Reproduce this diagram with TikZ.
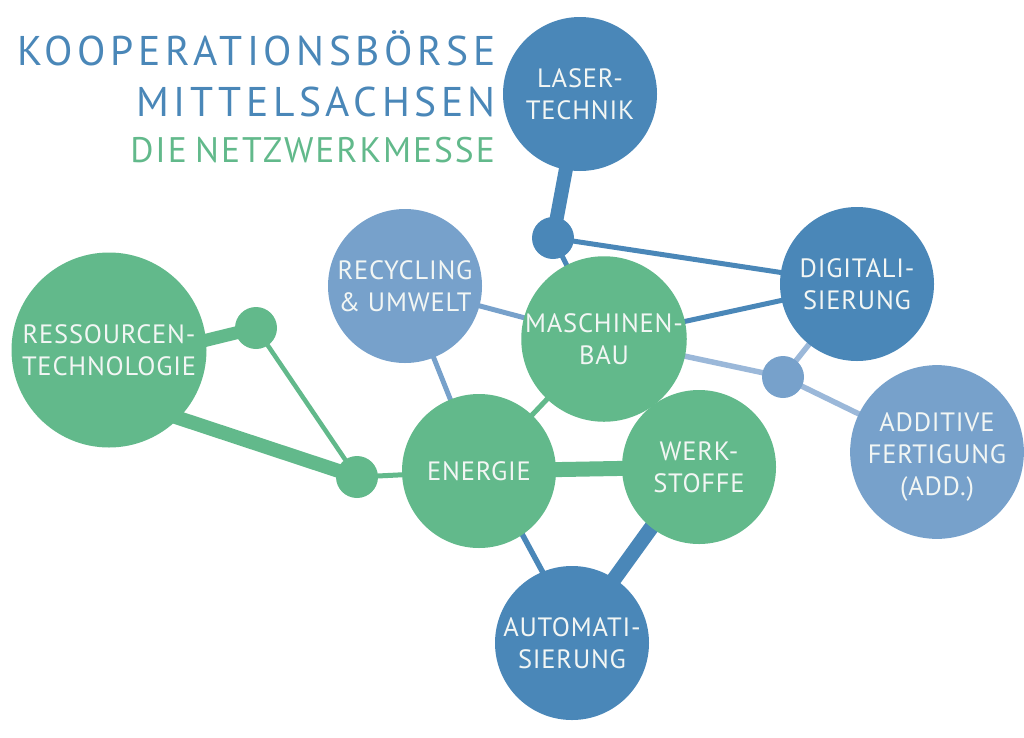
\documentclass[tikz,border=0pt]{standalone}
\usepackage{fontspec}
\setmainfont{PT Sans}
\newfontfamily\titlefont[LetterSpace=11]{PT Sans}
\newfontfamily\subtitlefont[LetterSpace=5.5]{PT Sans}
\newfontfamily\labelfont[LetterSpace=3]{PT Sans}
\usetikzlibrary{backgrounds}
\definecolor{dblue}{HTML}{4A87B8}
\definecolor{lblue}{HTML}{77A1CB}
\definecolor{llblue}{HTML}{9BB8D9}
\definecolor{mgreen}{HTML}{62B98B}
\definecolor{txtw}{HTML}{F2F6F4}
\begin{document}
\begin{tikzpicture}[x=1pt,y=-1pt,
  bubble/.style={circle,inner sep=0pt,minimum size=154pt,text=txtw,align=center,
    font=\labelfont\fontsize{26.5}{31.7}\selectfont},
  knot/.style={circle,inner sep=0pt,minimum size=42pt},
  heavy/.style={line width=14pt},
  medium/.style={line width=5pt},
  titleline/.style={anchor=base east,inner sep=0pt}
]
\path[use as bounding box] (0,0) rectangle (1024,737);

% title
\node[titleline,text=dblue,font=\titlefont\fontsize{41.5}{48}\selectfont] (t1) at (496,65) {KOOPERATIONSBÖRSE};
\node[titleline,text=dblue,font=\titlefont\fontsize{41.5}{48}\selectfont] (t2) at (496,116) {MITTELSACHSEN};
\node[titleline,text=mgreen,font=\subtitlefont\fontsize{35.5}{42}\selectfont] (t3) at (495,162) {DIE\hspace{-3pt} NETZWERKMESSE};

% bubbles
\node[bubble,fill=dblue] (laser) at (580,94) {LASER-\\TECHNIK};
\node[bubble,fill=dblue] (digi) at (857,284) {DIGITALI-\\SIERUNG};
\node[bubble,fill=lblue] (recyc) at (405,286) {RECYCLING\\\& UMWELT};
\node[bubble,fill=mgreen] (masch) at (604,339) {MASCHINEN-\\BAU};
\node[bubble,fill=mgreen,minimum size=195pt] (ress) at (109,350) {RESSOURCEN-\\TECHNOLOGIE};
\node[bubble,fill=mgreen] (energ) at (479,471) {ENERGIE};
\node[bubble,fill=mgreen] (werk) at (699,467) {WERK-\\STOFFE};
\node[bubble,fill=lblue] (add) at (937,452) {\raisebox{-5pt}[\height][\depth]{\parbox{150pt}{\centering ADDITIVE\\FERTIGUNG\\(ADD.)}}};
\node[bubble,fill=dblue] (auto) at (572,643) {AUTOMATI-\\SIERUNG};

% knots
\node[knot,fill=dblue] (dotL) at (553,238) {};
\node[knot,fill=mgreen] (dotG1) at (256,328) {};
\node[knot,fill=mgreen] (dotG2) at (357,477) {};
\node[knot,fill=lblue] (dotB) at (783,377) {};

% connectors
\begin{scope}[on background layer]
  \draw[dblue,heavy] (laser.center) -- (dotL.center);
  \draw[dblue,medium] (dotL.center) -- (digi.center);
  \draw[dblue,medium] (dotL.center) -- (masch.center);
  \draw[dblue,medium] (masch.center) -- (digi.center);
  \draw[lblue,medium] (recyc.center) -- (masch.center);
  \draw[lblue,medium] (recyc.center) -- (energ.center);
  \draw[llblue,line width=5.5pt] (masch.center) -- (dotB.center);
  \draw[llblue,line width=5.5pt] (dotB.center) -- (digi.center);
  \draw[llblue,line width=5.5pt] (dotB.center) -- (add.center);
  \draw[mgreen,line width=13pt] ([yshift=-14pt]ress.center) -- (dotG1.center);
  \draw[mgreen,heavy] ([yshift=-45pt]ress.center) -- (dotG2.center);
  \draw[mgreen,line width=4.5pt] (dotG1.center) -- (dotG2.center);
  \draw[mgreen,medium] (dotG2.center) -- (energ.center);
  \draw[mgreen,line width=15pt] (energ.center) -- (werk.center);
  \draw[mgreen,medium] (energ.center) -- (masch.center);
  \draw[mgreen,medium] (masch.center) -- (werk.center);
  \draw[dblue,line width=5.5pt] ([xshift=9pt]energ.center) -- ([xshift=9pt]auto.center);
  \draw[dblue,line width=15pt] ([xshift=-4pt]werk.center) -- ([xshift=-4pt]auto.center);
\end{scope}
\end{tikzpicture}
\end{document}
